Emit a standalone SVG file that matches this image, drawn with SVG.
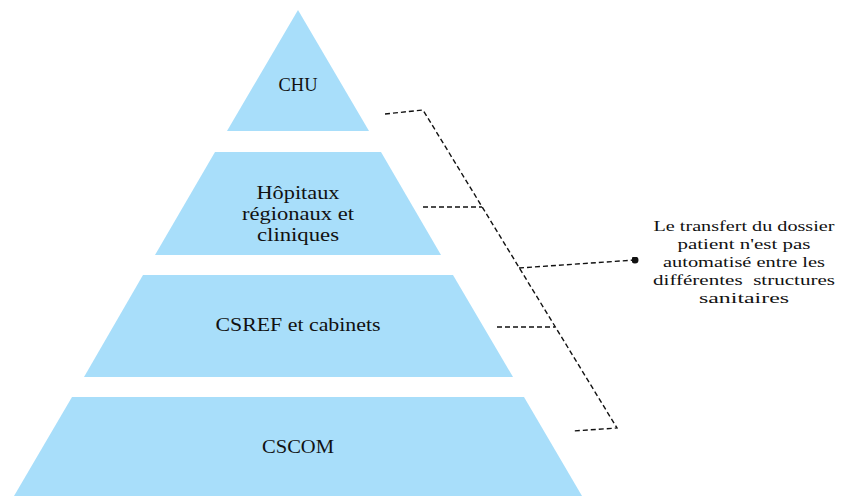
<svg xmlns="http://www.w3.org/2000/svg" width="842" height="496" viewBox="0 0 842 496">
<defs>
<style>
.lvl{fill:#A8DEFA;stroke:none}
.t{font-family:"Liberation Serif","Times New Roman",serif;font-size:19px;fill:#111;text-anchor:middle}
.h{font-size:18px}
.n{font-family:"Liberation Serif","Times New Roman",serif;font-size:15.5px;fill:#111;text-anchor:middle}
.c{fill:none;stroke:#111;stroke-width:1.4;stroke-dasharray:5 3}
</style>
<marker id="dot" viewBox="0 0 10 10" refX="5" refY="5" markerWidth="7" markerHeight="7" markerUnits="userSpaceOnUse">
<circle cx="5" cy="5" r="5" fill="#111"/>
</marker>
</defs>
<rect width="842" height="496" fill="#fff"/>
<g id="chu">
<polygon class="lvl" points="298,10 369,131 227,131"/>
<text class="t" x="298" y="91" textLength="39" lengthAdjust="spacingAndGlyphs">CHU</text>
</g>
<g id="hopitaux">
<polygon class="lvl" points="215,152 381,152 441,255 155,255"/>
<text class="t h" x="298" y="199" textLength="83" lengthAdjust="spacingAndGlyphs">Hôpitaux</text>
<text class="t h" x="298" y="220" textLength="112" lengthAdjust="spacingAndGlyphs">régionaux et</text>
<text class="t h" x="298" y="241" textLength="82" lengthAdjust="spacingAndGlyphs">cliniques</text>
</g>
<g id="csref">
<polygon class="lvl" points="143,275 453,275 513,377 84,377"/>
<text class="t" x="298" y="331" textLength="165" lengthAdjust="spacingAndGlyphs">CSREF et cabinets</text>
</g>
<g id="cscom">
<polygon class="lvl" points="72,397 524,397 582,496 14,496"/>
<text class="t" x="298" y="453" textLength="72" lengthAdjust="spacingAndGlyphs">CSCOM</text>
</g>
<g id="connectors">
<polyline class="c" points="385,114 423,110 617,428 573,431"/>
<line class="c" x1="423" y1="207" x2="482" y2="207"/>
<line class="c" x1="497" y1="327" x2="555" y2="327"/>
<line class="c" x1="519" y1="268" x2="635" y2="260" marker-end="url(#dot)"/>
</g>
<g id="note">
<text class="n" x="744" y="231" textLength="181" lengthAdjust="spacingAndGlyphs">Le transfert du dossier</text>
<text class="n" x="744" y="249" textLength="133" lengthAdjust="spacingAndGlyphs">patient n'est pas</text>
<text class="n" x="744" y="267" textLength="162" lengthAdjust="spacingAndGlyphs">automatisé entre les</text>
<text class="n" x="744" y="285" textLength="182" lengthAdjust="spacingAndGlyphs" xml:space="preserve">différentes  structures</text>
<text class="n" x="744" y="303" textLength="90" lengthAdjust="spacingAndGlyphs">sanitaires</text>
</g>
</svg>
